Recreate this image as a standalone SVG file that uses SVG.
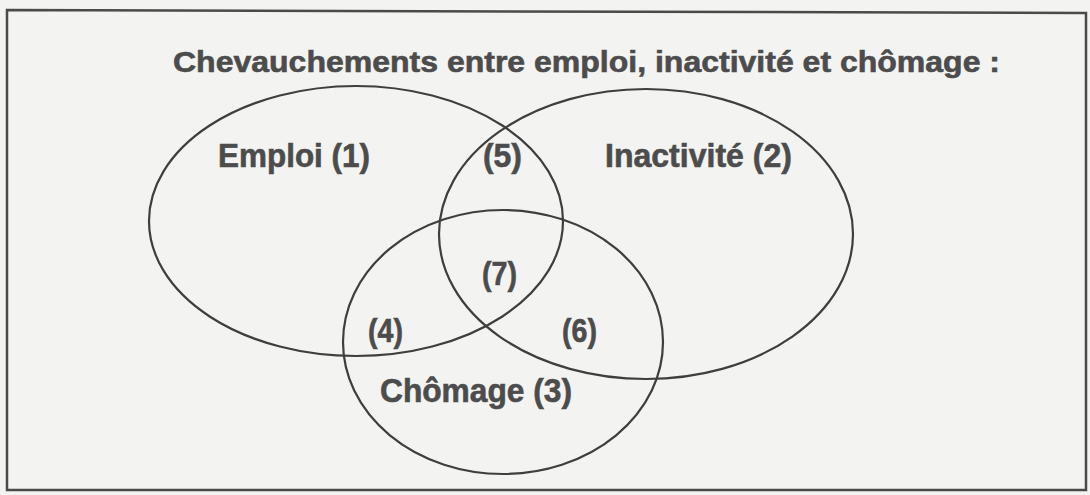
<svg xmlns="http://www.w3.org/2000/svg" width="1090" height="495" viewBox="0 0 1090 495">
<style>
.bg{fill:#f3f3f1}
.frame{fill:none;stroke:#4a4a4a;stroke-width:2.5}
.set{fill:none;stroke:#3e3e3e;stroke-width:2.2}
.t{font-family:"Liberation Sans",Arial,sans-serif;font-weight:bold;fill:#4c4c4c;stroke:#4c4c4c;stroke-width:0.6}
.title{font-size:29px}
.lbl{font-size:33px}
</style>
<rect class="bg" x="0" y="0" width="1090" height="495"/>
<path class="frame" d="M7,10 L1086,13 L1086,490 L7,490 Z"/>
<text class="t title" x="173" y="72" textLength="827" lengthAdjust="spacingAndGlyphs">Chevauchements entre emploi, inactivité et chômage :</text>
<g id="emploi">
<ellipse class="set" cx="356" cy="221" rx="207" ry="135"/>
<text class="t lbl" x="218" y="167" textLength="152" lengthAdjust="spacingAndGlyphs">Emploi (1)</text>
</g>
<g id="inactivite">
<ellipse class="set" cx="646" cy="234" rx="207" ry="145"/>
<text class="t lbl" x="605" y="167" textLength="187" lengthAdjust="spacingAndGlyphs">Inactivité (2)</text>
</g>
<g id="chomage">
<ellipse class="set" cx="503" cy="342" rx="160" ry="132"/>
<text class="t lbl" x="380" y="402" textLength="192" lengthAdjust="spacingAndGlyphs">Chômage (3)</text>
</g>
<g id="inter4"><text class="t lbl" x="368" y="342" textLength="35" lengthAdjust="spacingAndGlyphs">(4)</text></g>
<g id="inter5"><text class="t lbl" x="483" y="167" textLength="39" lengthAdjust="spacingAndGlyphs">(5)</text></g>
<g id="inter6"><text class="t lbl" x="562" y="342" textLength="35" lengthAdjust="spacingAndGlyphs">(6)</text></g>
<g id="inter7"><text class="t lbl" x="482" y="285" textLength="35" lengthAdjust="spacingAndGlyphs">(7)</text></g>
<g id="connectors"></g>
</svg>
